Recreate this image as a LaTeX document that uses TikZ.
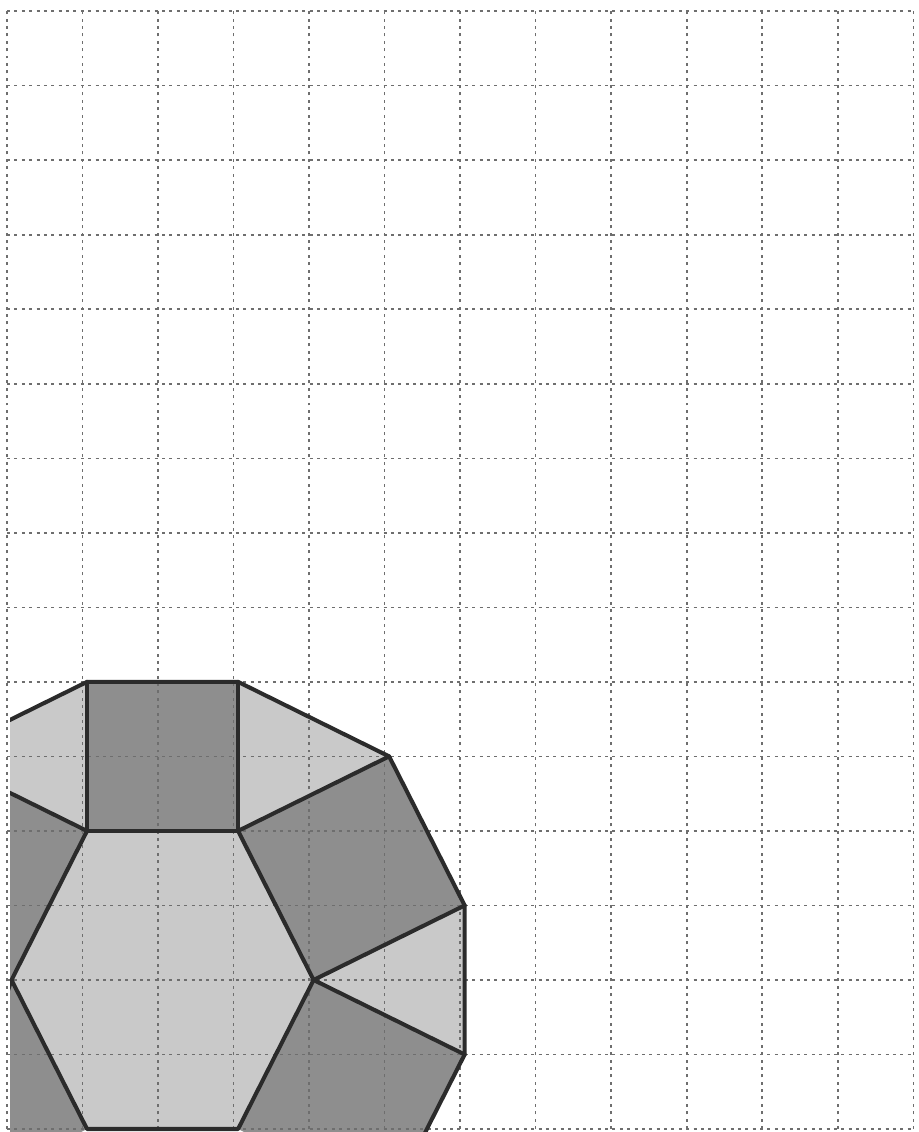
\documentclass[tikz,border=0pt]{standalone}
\usepackage{tikz}
\usetikzlibrary{positioning}
\definecolor{darkface}{HTML}{8E8E8E}
\definecolor{lightface}{HTML}{C9C9C9}
\definecolor{edgeline}{HTML}{2B2B2B}
\definecolor{gridline}{HTML}{6E6E6E}

\begin{document}
\begin{tikzpicture}[x=1.51cm, y=1.49cm,
    edge/.style={draw=edgeline, line width=2.3pt, line join=round, line cap=round},
    grid line/.style={gridline, line width=0.9pt, dash pattern=on 1.7pt off 2.5pt}]
    \useasboundingbox (-0.093,-0.04) rectangle (12.066,15.15);
    \fill[white] (-0.093,-0.04) rectangle (12.066,15.15);

    \begin{scope}[xshift=0.09cm]
    \coordinate (s1) at (1,6);
    \coordinate (s2) at (3,6);
    \coordinate (h1) at (1,4);
    \coordinate (h2) at (3,4);
    \coordinate (h3) at (4,2);
    \coordinate (h4) at (3,0);
    \coordinate (h5) at (1,0);
    \coordinate (h6) at (0,2);
    \coordinate (t1) at (5,5);
    \coordinate (t2) at (6,3);
    \coordinate (t3) at (6,1);
    \coordinate (t4) at (5,-1);
    \coordinate (u1) at (-1,5);
    \coordinate (u2) at (-2,3);
    \coordinate (u3) at (-1,-1);
    \coordinate (u4) at (-2,1);
    \end{scope}

    \begin{scope}
        \clip (0.04,-0.04) rectangle (12.066,15.15);
        \fill[darkface] (s1) -- (s2) -- (h2) -- (h1) -- cycle;
        \fill[lightface] (h1) -- (h2) -- (h3) -- (h4) -- (h5) -- (h6) -- cycle;
        \fill[lightface] (s2) -- (t1) -- (h2) -- cycle;
        \fill[lightface] (s1) -- (u1) -- (h1) -- cycle;
        \fill[darkface] (h2) -- (t1) -- (t2) -- (h3) -- cycle;
        \fill[lightface] (h3) -- (t2) -- (t3) -- cycle;
        \fill[darkface] (h3) -- (t3) -- (t4) -- (h4) -- cycle;
        \fill[darkface] (h1) -- (u1) -- (u2) -- (h6) -- cycle;
        \fill[darkface] (h6) -- (u4) -- (u3) -- (h5) -- cycle;
    \end{scope}

    \foreach \i in {0,...,12}
        \draw[grid line] (\i,0) -- (\i,15);
    \foreach \j in {0,...,15}
        \draw[grid line] (0,\j) -- (12,\j);

    \begin{scope}
        \clip (0.04,-0.04) rectangle (12.066,15.15);
        \draw[edge] (u1) -- (s1) -- (s2) -- (t1) -- (t2) -- (t3) -- (t4);
        \draw[edge] (s1) -- (h1) -- (h2) -- (s2);
        \draw[edge] (u1) -- (h1) -- (h6) -- (h5) -- (h4) -- (h3) -- (h2) -- (t1);
        \draw[edge] (h6) -- (u3);
        \draw[edge] (t2) -- (h3) -- (t3);
    \end{scope}
\end{tikzpicture}
\end{document}
